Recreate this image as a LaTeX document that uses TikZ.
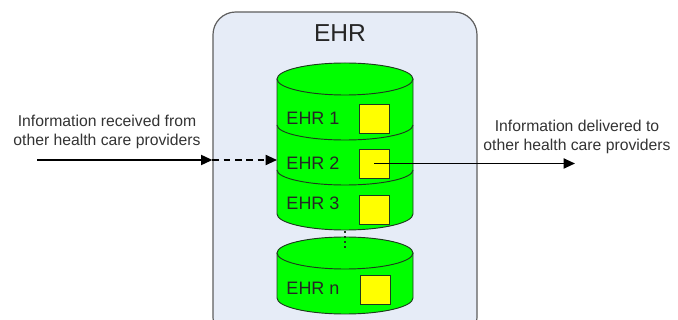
\documentclass[tikz,border=0pt]{standalone}
\usepackage{fontspec}
\setmainfont{Liberation Sans}
\usetikzlibrary{arrows.meta}
\definecolor{boxfill}{HTML}{E6ECF7}
\definecolor{boxline}{HTML}{5E5E5E}
\definecolor{dbgreen}{HTML}{00FF00}
\definecolor{dbline}{HTML}{1E3A1E}
\definecolor{recyellow}{HTML}{FFFF00}
\definecolor{txtgray}{HTML}{333333}
\tikzset{
  store/.style={fill=dbgreen, draw=dbline, line width=0.7pt},
  record/.style={draw=dbline, fill=recyellow, line width=0.7pt, minimum width=22.5pt, minimum height=21.75pt, inner sep=0pt},
  reclabel/.style={font=\fontsize{13.5}{15}\selectfont, text=black!85, inner sep=0pt},
  sidetext/.style={font=\fontsize{11.8}{14.3}\selectfont, text=txtgray, align=center, inner sep=0pt},
  flow/.style={line width=1.4pt, -{Triangle[length=8.5pt, width=7.5pt]}},
}
\begin{document}
\begin{tikzpicture}[x=0.75pt, y=-0.75pt]
\useasboundingbox (0,0) rectangle (678,320);

% outer EHR container
\node[draw=boxline, fill=boxfill, line width=0.9pt, rounded corners=17pt,
      minimum width=198pt, minimum height=246pt, inner sep=0pt] (ehrbox) at (345,176) {};
\node[font=\fontsize{18.4}{20}\selectfont, text=black!85] (title) at (340,33) {EHR};

% upper stacked store (EHR 1..3)
\fill[store, draw=none] (277,79) -- (277,214) arc[start angle=180, end angle=0, x radius=68, y radius=16] -- (413,79) -- cycle;
\draw[dbline, line width=0.7pt] (277,79) -- (277,214) arc[start angle=180, end angle=0, x radius=68, y radius=16] -- (413,79);
\draw[store] (345,79) ellipse[x radius=68, y radius=16];
\draw[dbline, line width=0.7pt] (277,125) arc[start angle=180, end angle=0, x radius=68, y radius=15];
\draw[dbline, line width=0.7pt] (277,170) arc[start angle=180, end angle=0, x radius=68, y radius=15];

% lower store (EHR n)
\fill[store, draw=none] (277,253) -- (277,298) arc[start angle=180, end angle=0, x radius=68, y radius=16] -- (413,253) -- cycle;
\draw[dbline, line width=0.7pt] (277,253) -- (277,298) arc[start angle=180, end angle=0, x radius=68, y radius=16] -- (413,253);
\draw[store] (345,253) ellipse[x radius=68, y radius=16];

% continuation dots between the stores
\coordinate (gapTop) at (345,231);
\coordinate (gapBot) at (345,251);
\draw[dbline, line width=1.2pt, dash pattern=on 1.2pt off 2.6pt] (gapTop) -- (gapBot);

% record labels and boxes
\node[reclabel] (l1) at (313,118) {EHR 1};
\node[reclabel] (l2) at (313,163) {EHR 2};
\node[reclabel] (l3) at (313,203) {EHR 3};
\node[reclabel] (ln) at (313,288) {EHR n};
\node[record] (sq1) at (374,118.5) {};
\node[record] (sq2) at (374,163.5) {};
\node[record] (sq3) at (374,209.5) {};
\node[record] (sqn) at (375.5,289.5) {};

% incoming information
\node[sidetext] (inText) at (107,132) {Information received from\\other health care providers};
\coordinate (inStart) at (37,160);
\coordinate (storeWest) at (277,160);
\draw[flow] (inStart) -- (inStart -| ehrbox.west);
\draw[flow, dash pattern=on 5pt off 3.5pt] (inStart -| ehrbox.west) -- (storeWest);

% outgoing information
\node[sidetext] (outText) at (577,136.5) {Information delivered to\\other health care providers};
\coordinate (outEnd) at (575,163.5);
\draw[flow] (sq2.center) -- (outEnd);
\end{tikzpicture}
\end{document}
